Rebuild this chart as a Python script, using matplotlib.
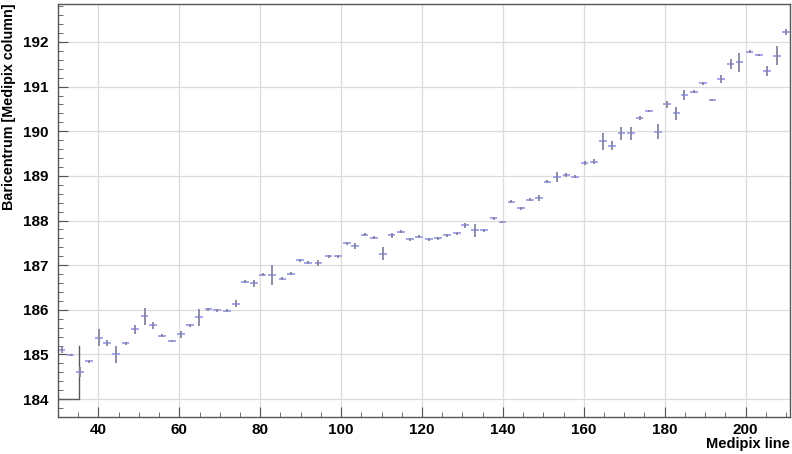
import numpy as np
import matplotlib.pyplot as plt
from matplotlib.ticker import MultipleLocator

# Medipix line (bin centres) and baricentrum
medipix_line = [30.9, 33.1, 35.4, 37.6, 40.1, 42.1, 44.4, 46.7, 49.1, 51.4, 53.5, 55.7, 58.2, 60.4,
                62.6, 64.9, 67.2, 69.3, 71.8, 74.0, 76.3, 78.5, 80.6, 83.0, 85.5, 87.7, 89.9,
                91.9, 94.4, 96.9, 99.2, 101.4, 103.5, 105.8, 108.1, 110.3, 112.5, 114.8, 117.0, 119.3,
                121.7, 123.9, 126.2, 128.6, 130.6, 133.1, 135.3, 137.7, 139.9, 142.1, 144.4, 146.7, 148.9,
                151.0, 153.4, 155.7, 157.9, 160.2, 162.5, 164.8, 167.0, 169.3, 171.6, 173.8, 176.1, 178.3,
                180.6, 182.9, 184.9, 187.2, 189.5, 191.8, 194.0, 196.3, 198.5, 201.0, 203.3, 205.3, 207.7, 210.0]

baricentrum = [185.11, 184.98, 184.61, 184.85, 185.38, 185.26, 185.00, 185.25, 185.56, 185.86, 185.65, 185.42, 185.30, 185.45,
               185.65, 185.83, 186.01, 185.99, 185.98, 186.14, 186.63, 186.59, 186.79, 186.78, 186.70, 186.81, 187.11,
               187.06, 187.05, 187.20, 187.20, 187.49, 187.43, 187.68, 187.62, 187.26, 187.67, 187.75, 187.58, 187.64,
               187.58, 187.60, 187.67, 187.71, 187.89, 187.78, 187.78, 188.05, 187.97, 188.42, 188.27, 188.47, 188.50,
               188.87, 188.97, 189.02, 188.98, 189.29, 189.32, 189.78, 189.68, 189.95, 189.95, 190.30, 190.45, 189.99,
               190.60, 190.40, 190.81, 190.89, 191.07, 190.70, 191.17, 191.50, 191.54, 191.78, 191.71, 191.35, 191.69, 192.23]

virhe = [0.07, 0.02, 0.11, 0.03, 0.19, 0.07, 0.19, 0.03, 0.11, 0.19, 0.07, 0.03, 0.03, 0.07,
         0.04, 0.19, 0.03, 0.03, 0.03, 0.07, 0.03, 0.07, 0.04, 0.22, 0.04, 0.04, 0.03,
         0.03, 0.07, 0.03, 0.03, 0.03, 0.06, 0.03, 0.03, 0.15, 0.06, 0.03, 0.03, 0.03,
         0.03, 0.03, 0.03, 0.03, 0.06, 0.15, 0.03, 0.03, 0.03, 0.03, 0.03, 0.03, 0.07,
         0.03, 0.11, 0.04, 0.03, 0.04, 0.06, 0.19, 0.11, 0.15, 0.15, 0.04, 0.03, 0.17,
         0.07, 0.15, 0.11, 0.04, 0.03, 0.03, 0.09, 0.11, 0.22, 0.03, 0.03, 0.11, 0.21, 0.07]

bin_puolileveys = 0.95

# the stray L-shaped line in the lower left corner
kulma_x = [30.0, 35.3, 35.3]
kulma_y = [184.0, 184.0, 185.2]

plt.rcParams['font.family'] = ['Liberation Sans', 'DejaVu Sans']
plt.rcParams['font.weight'] = 'bold'

fig = plt.figure(figsize=(7.92, 4.54), dpi=100)
ax = fig.add_axes([0.0732, 0.0815, 0.9243, 0.9097])

ax.grid(True, which='major', color='#dcdcdc', linewidth=0.9)
ax.set_axisbelow(True)

ax.plot(kulma_x, kulma_y, color='#5a5a5a', linewidth=1.0)

ax.errorbar(medipix_line, baricentrum, xerr=bin_puolileveys, fmt='none',
            ecolor='#a4a4ec', elinewidth=1.4, capsize=0)
ax.errorbar(medipix_line, baricentrum, yerr=virhe, fmt='none',
            ecolor='#85859e', elinewidth=1.3, capsize=0)

ax.set_xlim(30, 211)
ax.set_ylim(183.6, 192.85)

ax.xaxis.set_major_locator(MultipleLocator(20))
ax.xaxis.set_minor_locator(MultipleLocator(5))
ax.yaxis.set_major_locator(MultipleLocator(1))
ax.yaxis.set_minor_locator(MultipleLocator(0.2))

ax.tick_params(which='both', direction='in', top=False, right=False,
               color='#555555', labelsize=11)
ax.tick_params(which='major', length=7)
ax.tick_params(which='minor', length=3.5)
ax.tick_params(axis='y', pad=7)
ax.tick_params(axis='x', pad=4)

for s in ax.spines.values():
    s.set_color('#555555')
    s.set_linewidth(1.0)

ax.set_ylabel('Baricentrum [Medipix column]', fontsize=10.4, fontweight='bold',
              loc='top', labelpad=5)
ax.set_xlabel('Medipix line', fontsize=10.5, fontweight='bold', loc='right',
              labelpad=0)

fig.savefig('out.png', dpi=100, facecolor='white')
